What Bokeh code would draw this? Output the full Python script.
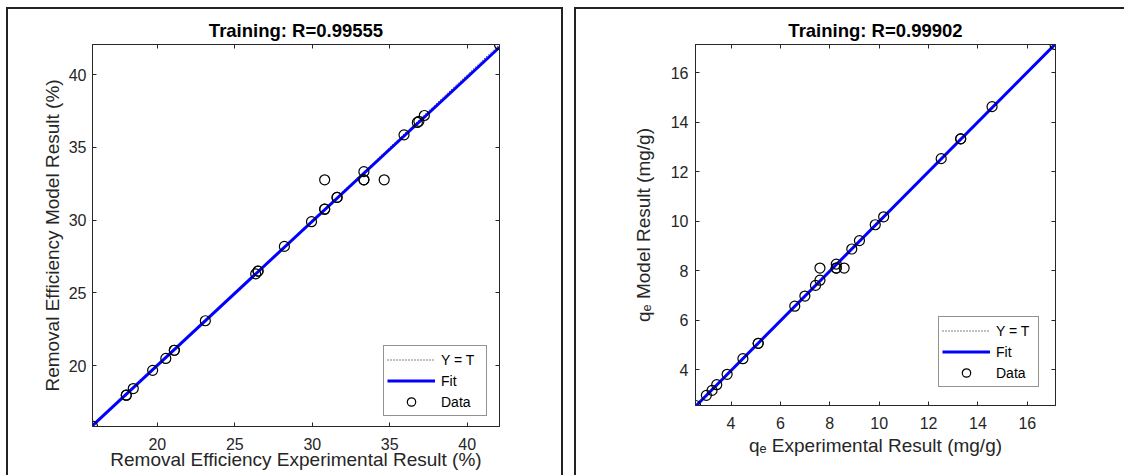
import numpy as np
from bokeh.plotting import figure
from bokeh.models import (Range1d, LinearAxis, FixedTicker, Title, Legend, LegendItem,
                          CustomJSTickFormatter, Spacer)
from bokeh.layouts import row, column
from bokeh.embed import file_html
from bokeh.resources import INLINE

FONT = "Liberation Sans"
AX = "#262626"

# ---- Left panel: removal efficiency (%) ----
re_target = [15.82, 18.00, 18.00, 18.45, 19.70, 20.55, 21.10, 21.10, 23.10, 26.35, 26.50, 26.50,
             28.20, 29.95, 30.80, 30.80, 30.80, 31.60, 31.60, 33.33, 33.33, 33.33, 34.64,
             35.92, 36.78, 36.88, 37.23, 42.08]
re_output = [15.84, 17.97, 17.97, 18.43, 19.68, 20.50, 21.06, 21.06, 23.09, 26.31, 26.50, 26.50,
             28.20, 29.90, 30.76, 30.76, 32.78, 31.57, 31.57, 33.34, 32.78, 32.78, 32.78,
             35.87, 36.72, 36.80, 37.20, 42.08]
re_ticks = [20, 25, 30, 35, 40]
re_title = "Training: R=0.99555"
re_xlabel = "Removal Efficiency Experimental Result (%)"
re_ylabel = "Removal Efficiency Model Result (%)"

# ---- Right panel: qe (mg/g) ----
qe_target = [2.56, 3.00, 3.23, 3.42, 3.84, 4.48, 5.10, 5.10, 6.58, 6.99, 7.42, 7.60, 7.60,
             8.26, 8.26, 8.26, 8.58, 8.89, 9.20, 9.84, 10.18, 12.51, 13.30, 13.30, 14.57, 17.12]
qe_output = [2.56, 2.97, 3.17, 3.40, 3.82, 4.45, 5.07, 5.07, 6.57, 6.98, 7.41, 7.62, 8.11,
             8.27, 8.11, 8.11, 8.11, 8.88, 9.22, 9.86, 10.18, 12.53, 13.33, 13.33, 14.63, 17.14]
qe_ticks = [4, 6, 8, 10, 12, 14, 16]
qe_title = "Training: R=0.99902"
qe_xlabel = "q\u2091 Experimental Result (mg/g)"
qe_ylabel = "q\u2091 Model Result (mg/g)"

legend_labels = ["Y = T", "Fit", "Data"]


def style_axis(ax, ticks, standoff, labels=True):
    ax.ticker = FixedTicker(ticks=ticks, minor_ticks=[])
    ax.major_tick_in = 4
    ax.major_tick_out = 0
    ax.minor_tick_line_color = None
    ax.axis_line_color = AX
    ax.major_tick_line_color = AX
    ax.major_label_text_font = FONT
    ax.major_label_text_font_size = "16px"
    ax.major_label_text_color = AX
    ax.major_label_standoff = standoff
    ax.axis_label_text_font = FONT
    ax.axis_label_text_font_size = "19px"
    ax.axis_label_text_font_style = "normal"
    ax.axis_label_text_color = AX
    if not labels:
        ax.formatter = CustomJSTickFormatter(code="return ''")


def panel(target, output, ticks, title, xlabel, ylabel, g):
    t = np.array(target, dtype=float)
    y = np.array(output, dtype=float)
    lo = float(min(t.min(), y.min()))
    hi = float(max(t.max(), y.max()))
    p = figure(frame_width=g["fw"], frame_height=g["fh"],
               x_range=Range1d(lo, hi), y_range=Range1d(lo, hi),
               output_backend="svg", toolbar_location=None,
               min_border_left=g["ml"], min_border_right=g["mr"],
               min_border_top=g["mt"], min_border_bottom=g["mb"],
               outline_line_color=AX, outline_line_width=1,
               background_fill_color="white", border_fill_color="white",
               styles=g["styles"])
    p.grid.visible = False
    style_axis(p.xaxis[0], ticks, g["xs"])
    style_axis(p.yaxis[0], ticks, g["ys"])
    p.xaxis[0].axis_label = xlabel
    p.yaxis[0].axis_label = ylabel
    p.xaxis[0].axis_label_standoff = g["xls"]
    p.yaxis[0].axis_label_standoff = g["yls"]
    top = LinearAxis()
    right = LinearAxis()
    style_axis(top, ticks, 0, labels=False)
    style_axis(right, ticks, 0, labels=False)
    p.add_layout(top, "above")
    p.add_layout(right, "right")
    p.add_layout(Title(text=title, align="center", text_font=FONT, text_font_size="18.5px",
                       text_font_style="bold", text_color="black", standoff=g["ts"]), "above")

    # regression line of outputs on targets
    slope, intercept = np.polyfit(t, y, 1)
    ends = np.array([lo, hi])
    r_yt = p.line(ends, ends, line_color="black", line_width=1, line_dash="1 2")
    r_fit = p.line(ends, slope * ends + intercept, line_color="#0000ff", line_width=3)
    r_dat = p.scatter(t, y, marker="circle", size=10, fill_color=None,
                      line_color="black", line_width=1.2)

    leg = Legend(items=[LegendItem(label=legend_labels[0], renderers=[r_yt]),
                        LegendItem(label=legend_labels[1], renderers=[r_fit]),
                        LegendItem(label=legend_labels[2], renderers=[r_dat])],
                 location=(g["lx"], g["ly"]), margin=0, padding=3, spacing=-2,
                 glyph_width=48, glyph_height=21, label_height=21,
                 label_width=g["lw"], label_standoff=6,
                 label_text_font=FONT, label_text_font_size="14px", label_text_color="black",
                 border_line_color=AX, border_line_width=1,
                 background_fill_color="white", background_fill_alpha=1.0)
    p.add_layout(leg)
    return p


# left panel geometry (page pixels: frame 92..495 x 44..424)
gL = dict(fw=403, fh=380, ml=84, mr=66, mt=35, mb=51, xs=11, ys=6, xls=-4, yls=3, ts=7,
          lx=291, ly=10, lw=42,
          styles={"border-top": "2px solid #222", "border-left": "2px solid #222",
                  "border-right": "2px solid #222"})
pL = panel(re_target, re_output, re_ticks, re_title, re_xlabel, re_ylabel, gL)

# right panel geometry (page pixels: frame 695..1053 x 43..402)
gR = dict(fw=358, fh=359, ml=119, mr=71, mt=34, mb=73, xs=11, ys=7, xls=3, yls=14, ts=7,
          lx=243, ly=18, lw=39,
          styles={"border-top": "2px solid #222", "border-left": "2px solid #222"})
pR = panel(qe_target, qe_output, qe_ticks, qe_title, qe_xlabel, qe_ylabel, gR)

layout = column(Spacer(height=7),
                row(Spacer(width=6), pL, Spacer(width=11), pR))

open("out.html", "w").write(file_html(layout, INLINE))
